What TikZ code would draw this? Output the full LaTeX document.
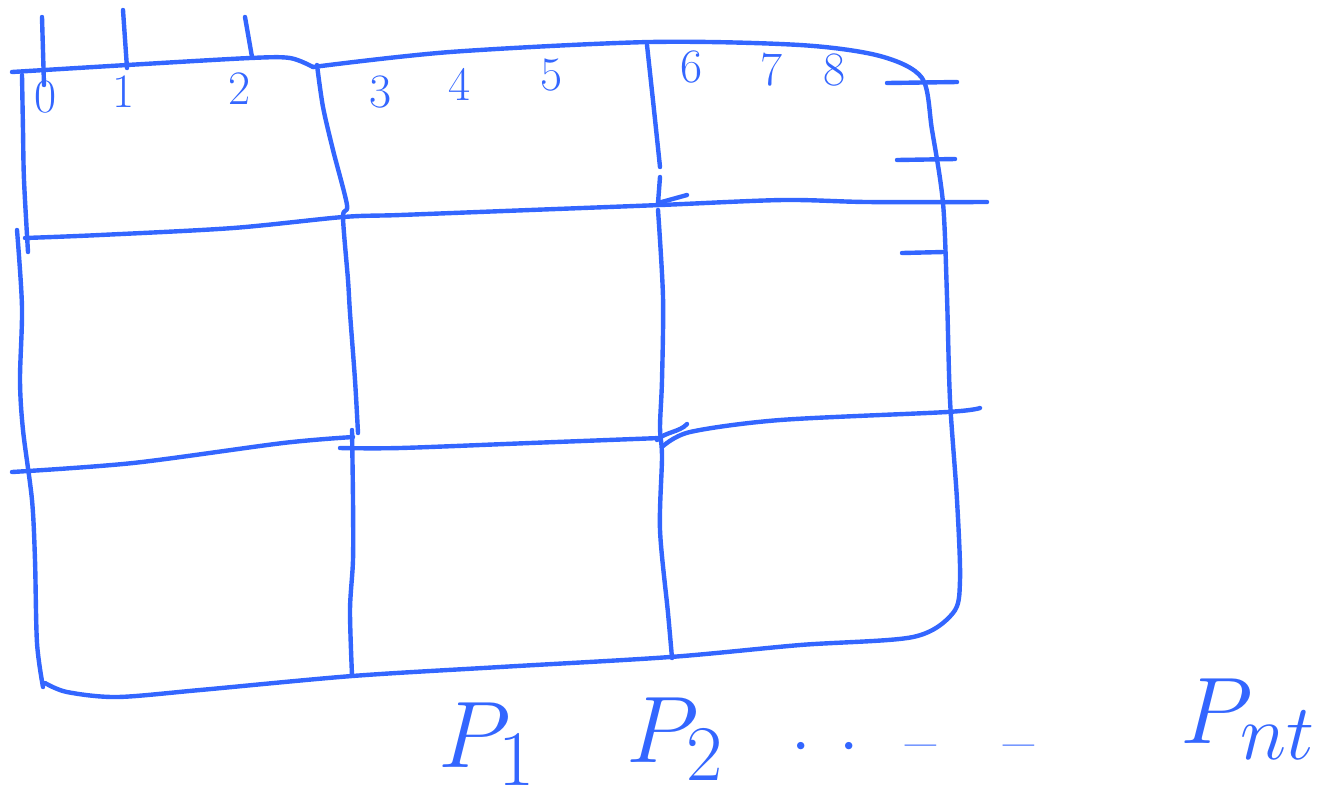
\documentclass[tikz,border=0pt]{standalone}
\usepackage{xcolor}
\usepackage{tikz}
\usetikzlibrary{positioning}
\definecolor{inkblue}{HTML}{3366FF}

\begin{document}
\begin{tikzpicture}[x=0.5pt,y=-0.5pt,
  pen/.style={line width=2.2pt,draw=inkblue,line cap=round,line join=round},
  digit/.style={text=inkblue,font=\fontsize{24}{26}\selectfont,inner sep=0pt},
  plabel/.style={text=inkblue,font=\fontsize{24.88}{28}\selectfont,inner sep=0pt,scale=1.9}
]
\useasboundingbox (0,0) rectangle (1331,811);

% outer border of the grid
\draw[pen] plot[smooth,tension=0.5] coordinates {(12,72) (127,65) (250,58) (290,58) (313,67)};
\draw[pen] plot[smooth,tension=0.5] coordinates {(313,67) (450,52) (650,42) (800,45) (880,56) (922,78)
  (932,130) (943,203) (947,297) (950,400) (957,500) (960,580) (953,613) (913,637) (800,645) (670,657)
  (500,667) (352,676) (200,690) (117,697) (67,692) (45,683)};
\draw[pen] plot[smooth,tension=0.5] coordinates {(22,75) (23,130) (24,180) (28,252)};
\draw[pen] plot[smooth,tension=0.5] coordinates {(17,230) (22,307) (20,380) (23,430) (32,500) (35,560) (37,643) (43,687)};

% column dividers
\draw[pen] plot[smooth,tension=0.5] coordinates {(317,65) (323,107) (333,150) (347,205) (343,217) (348,280) (350,313) (355,380) (358,433)};
\draw[pen] plot[smooth,tension=0.5] coordinates {(352,430) (353,500) (353,560) (350,610) (352,675)};
\draw[pen] plot[smooth,tension=0.5] coordinates {(647,45) (654,110) (660,167)};
\draw[pen] (660,177) -- (658,203) -- (687,195);
\draw[pen] plot[smooth,tension=0.5] coordinates {(658,210) (663,297) (662,380) (660,427) (662,457) (660,530) (668,613) (672,658)};

% row dividers
\draw[pen] plot[smooth,tension=0.5] coordinates {(25,238) (100,235) (233,228) (343,217) (400,215) (530,210) (660,205) (783,200) (867,202) (987,202)};
\draw[pen] plot[smooth,tension=0.5] coordinates {(12,472) (133,463) (283,443) (353,437)};
\draw[pen] plot[smooth,tension=0.5] coordinates {(340,448) (400,448) (530,443) (660,438)};
\draw[pen] (657,440) .. controls (665,432) and (680,432) .. (687,424);
\draw[pen] plot[smooth,tension=0.5] coordinates {(662,447) (690,432) (780,420) (947,412) (980,408)};

% index ticks
\draw[pen] (42,17) -- (44,85);
\draw[pen] (123,10) -- (127,68);
\draw[pen] (245,17) -- (252,57);
\draw[pen] (887,83) -- (957,82);
\draw[pen] (897,160) -- (955,159);
\draw[pen] (902,253) -- (943,252);

% element indices
\node[digit] (d0) at (46,97) {0};
\node[digit] (d1) at (124,92) {1};
\node[digit] (d2) at (240,89) {2};
\node[digit] (d3) at (381,92) {3};
\node[digit] (d4) at (460,84) {4};
\node[digit] (d5) at (552,75) {5};
\node[digit] (d6) at (692,67) {6};
\node[digit] (d7) at (772,70) {7};
\node[digit] (d8) at (835,70) {8};

% processor labels
\node[plabel,anchor=north west] (p1) at (438,702) {$P_1$};
\node[plabel,anchor=north west] (p2) at (626,697) {$P_2$};
\node[digit,scale=1.4,anchor=west] (dots) at (791,748)
  {$\cdot$\hspace{0.42em}$\cdot$\hspace{0.7em}\textendash\hspace{1em}\textendash};
\node[plabel,anchor=north west] (pnt) at (1180,678) {$P_{nt}$};
\end{tikzpicture}
\end{document}
